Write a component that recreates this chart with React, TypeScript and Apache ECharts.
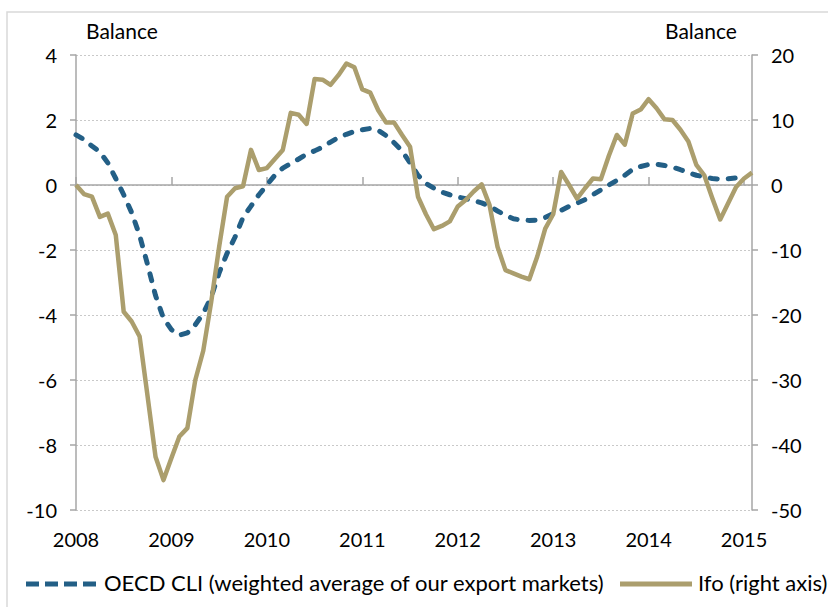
import React, { useEffect, useRef } from "react";
import * as echarts from "echarts";

const months: string[] = [];
for (let y = 2008; y <= 2015; y++) {
  for (let m = 1; m <= 12; m++) {
    if (y === 2015 && m > 2) break;
    months.push(`${y}-${String(m).padStart(2, "0")}`);
  }
}

const oecdCli: (number | null)[] = [
  1.54, 1.4, 1.2, 1.02, 0.68, 0.2, -0.3, -0.85, -1.55, -2.45, -3.4, -4.1,
  -4.45, -4.62, -4.55, -4.3, -3.95, -3.45, -2.7, -2.1, -1.6, -1.0, -0.65, -0.3,
  0.0, 0.3, 0.52, 0.66, 0.8, 0.95, 1.05, 1.17, 1.32, 1.46, 1.56, 1.65,
  1.7, 1.74, 1.68, 1.52, 1.3, 1.05, 0.68, 0.3, 0.05, -0.1, -0.22, -0.3,
  -0.37, -0.42, -0.48, -0.55, -0.65, -0.8, -0.93, -1.04, -1.08, -1.09, -1.08, -1.0,
  -0.88, -0.78, -0.66, -0.56, -0.45, -0.3, -0.15, 0.0, 0.14, 0.3, 0.48, 0.57,
  0.63, 0.64, 0.6, 0.55, 0.47, 0.38, 0.3, 0.25, 0.2, 0.18, 0.19, 0.22,
  0.28, null,
];

const ifo: number[] = [
  0, -1.4, -1.8, -4.9, -4.4, -7.7, -19.5, -21, -23.3, -32.5, -41.8, -45.4,
  -42, -38.7, -37.4, -30, -25.5, -18, -9.5, -1.8, -0.5, -0.2, 5.4, 2.3,
  2.6, 4, 5.4, 11.1, 10.8, 9.4, 16.3, 16.2, 15.4, 16.9, 18.7, 18.1,
  14.7, 14.2, 11.5, 9.6, 9.6, 7.7, 5.9, -1.8, -4.5, -6.8, -6.3, -5.6,
  -3.3, -2.3, -1, 0.1, -3.1, -9.5, -13.1, -13.6, -14.1, -14.5, -11, -6.7,
  -4.5, 2, 0, -2.1, -0.5, 1, 0.9, 4.5, 7.7, 6.2, 11, 11.6,
  13.2, 11.8, 10.1, 10, 8.5, 6.7, 3.1, 1.5, -2, -5.3, -2.8, -0.3,
  1, 1.9,
];

const leftTitle = "Balance";
const rightTitle = "Balance";
const cliName = "OECD CLI (weighted average of our export markets)";
const ifoName = "Ifo (right axis)";

const BLUE = "#235f86";
const KHAKI = "#ab9e6d";
const AXIS = "#a6a6a6";
const FONT = "Lato";

export default function App() {
  const ref = useRef<HTMLDivElement>(null);
  useEffect(() => {
    if (!ref.current) return;
    const chart = echarts.init(ref.current, null, { renderer: "svg" });
    const labelStyle = { fontFamily: FONT, fontSize: 20, color: "#000" };
    chart.setOption({
      animation: false,
      backgroundColor: "#fff",
      grid: { left: 76, right: 76, top: 55, bottom: 97, containLabel: false },
      graphic: [
        {
          type: "rect",
          shape: { x: 7, y: 12, width: 830, height: 600 },
          style: { fill: "none", stroke: "#d9d9d9", lineWidth: 1.5 },
          silent: true,
        },
        {
          type: "text",
          left: 86,
          top: 20,
          style: { text: leftTitle, font: `21px ${FONT}`, fill: "#000" },
        },
        {
          type: "text",
          left: 665,
          top: 20,
          style: { text: rightTitle, font: `21px ${FONT}`, fill: "#000" },
        },
        {
          type: "line",
          shape: { x1: 26, y1: 584, x2: 98, y2: 584 },
          style: { stroke: BLUE, lineWidth: 5, lineDash: [13, 6] },
          silent: true,
        },
        {
          type: "text",
          left: 104,
          top: 571,
          style: { text: cliName, font: `22px ${FONT}`, fill: "#000" },
        },
        {
          type: "line",
          shape: { x1: 620, y1: 584, x2: 692, y2: 584 },
          style: { stroke: KHAKI, lineWidth: 5 },
          silent: true,
        },
        {
          type: "text",
          left: 698,
          top: 571,
          style: { text: ifoName, font: `22px ${FONT}`, fill: "#000" },
        },
      ],
      xAxis: [
        {
          type: "category",
          data: months,
          boundaryGap: false,
          position: "bottom",
          axisLine: { show: false, onZero: false },
          axisTick: { show: false },
          splitLine: { show: false },
          axisLabel: {
            ...labelStyle,
            interval: 11,
            margin: 19,
            formatter: (v: string) => v.slice(0, 4),
          },
        },
        {
          type: "category",
          data: months,
          boundaryGap: false,
          axisLine: { show: true, onZero: true, lineStyle: { color: AXIS, width: 1.5 } },
          axisTick: { show: true, interval: 11, length: 8, lineStyle: { color: AXIS, width: 1.5 } },
          axisLabel: { show: false },
          splitLine: { show: false },
        },
      ],
      yAxis: [
        {
          type: "value",
          min: -10,
          max: 4,
          interval: 2,
          position: "left",
          axisLine: { show: true, lineStyle: { color: AXIS, width: 1.5 } },
          axisTick: { show: true, length: 6, lineStyle: { color: AXIS, width: 1.5 } },
          axisLabel: { ...labelStyle, margin: 19 },
          splitLine: { show: true, lineStyle: { color: "#c9c9c9", type: [2, 2], width: 1 } },
        },
        {
          type: "value",
          min: -50,
          max: 20,
          interval: 10,
          position: "right",
          axisLine: { show: true, lineStyle: { color: AXIS, width: 1.5 } },
          axisTick: { show: true, length: 6, lineStyle: { color: AXIS, width: 1.5 } },
          axisLabel: { ...labelStyle, margin: 19 },
          splitLine: { show: false },
        },
      ],
      series: [
        {
          name: cliName,
          type: "line",
          xAxisIndex: 0,
          yAxisIndex: 0,
          data: oecdCli,
          symbol: "none",
          itemStyle: { color: BLUE },
          lineStyle: { color: BLUE, width: 5, type: [7, 11], cap: "round", join: "round" },
        },
        {
          name: ifoName,
          type: "line",
          xAxisIndex: 0,
          yAxisIndex: 1,
          data: ifo,
          symbol: "none",
          itemStyle: { color: KHAKI },
          lineStyle: { color: KHAKI, width: 4.5, join: "round" },
        },
      ],
    });
    return () => chart.dispose();
  }, []);
  return (
    <div
      ref={ref}
      style={{ position: "fixed", left: 0, top: 0, width: 828, height: 607 }}
    />
  );
}
